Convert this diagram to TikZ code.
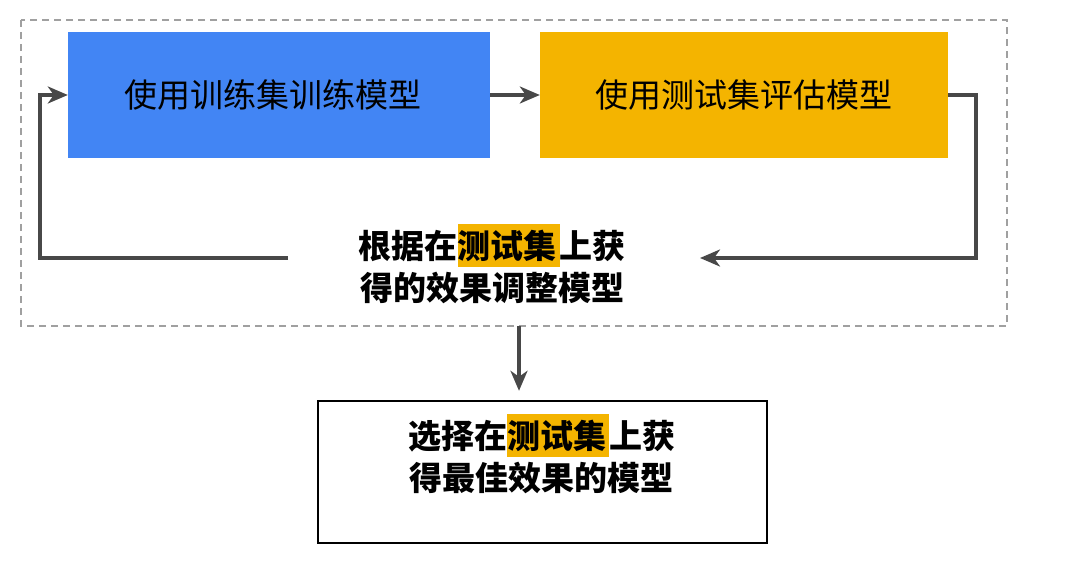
\documentclass[tikz,border=0pt]{standalone}
\usepackage{fontspec}
\usetikzlibrary{arrows.meta}
\newfontfamily\cjk{Noto Sans CJK SC}
\definecolor{gblue}{HTML}{4285F4}
\definecolor{gyel}{HTML}{F4B400}
\definecolor{arr}{HTML}{484848}
\definecolor{dashgray}{HTML}{A0A0A0}
\newcommand{\hlt}[1]{{\setlength\fboxsep{0pt}\colorbox{gyel}{\rule[-9pt]{0pt}{43pt}#1\hspace{3pt}}}}
\tikzset{
  filled/.style={draw=none, minimum width=#1, minimum height=126pt, inner sep=0pt, font=\cjk\fontsize{33}{40}\selectfont},
  lbl/.style={align=center, inner sep=0pt, font=\cjk\bfseries\fontsize{33}{42}\selectfont},
  conn/.style={draw=arr, line width=3.2pt, -{Stealth[length=20pt,width=17pt,inset=6pt]}},
}
\begin{document}
\begin{tikzpicture}[x=1pt,y=-1pt]
\useasboundingbox (0,0) rectangle (1067,585);
\draw[dashgray, line width=1.8pt, dash pattern=on 7pt off 5pt] (21,20) rectangle (1007,326);
\node[filled=422pt, fill=gblue] (train) at (279,95) {\hspace{-12pt}使用训练集训练模型};
\node[filled=408pt, fill=gyel] (eval) at (744,95) {使用测试集评估模型};
\node[lbl] (adj) at (492,264) {根据在\hlt{测试集}上获\\得的效果调整模型};
\node[draw=black, line width=2.4pt, minimum width=449pt, minimum height=142pt, inner sep=0pt] (best) at (542.5,472) {};
\node[lbl] (bestt) at (541.5,454) {选择在\hlt{测试集}上获\\得最佳效果的模型};
\coordinate (r1) at (976,95);
\coordinate (r2) at (976,258);
\coordinate (r3) at (700,258);
\coordinate (l1) at (288,258);
\coordinate (l2) at (40,258);
\coordinate (l3) at (40,95);
\coordinate (d1) at (519,326);
\draw[conn] (train.east) -- (eval.west);
\draw[conn] (eval.east) -- (r1) -- (r2) -- (r3);
\draw[conn] (l1) -- (l2) -- (l3) -- (train.west);
\draw[conn] (d1) -- ([yshift=9pt]best.north -| d1);
\end{tikzpicture}
\end{document}
